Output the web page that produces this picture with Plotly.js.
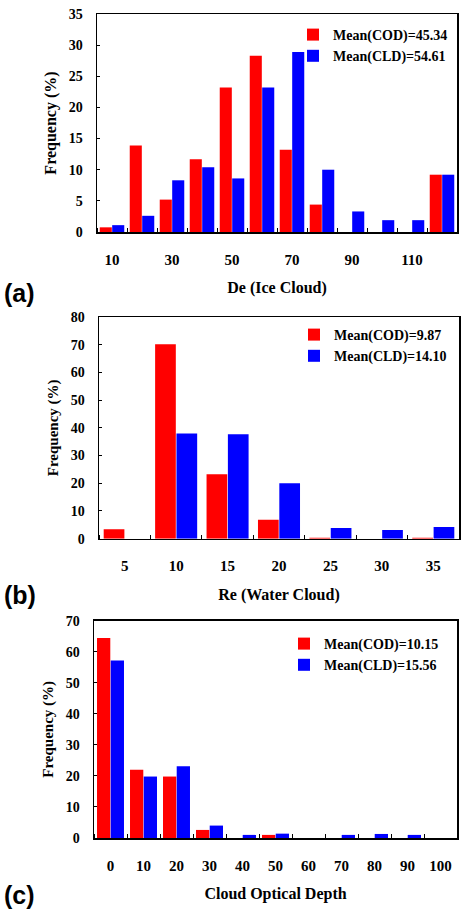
<!DOCTYPE html>
<html>
<head>
<meta charset="utf-8">
<script src="https://cdn.plot.ly/plotly-3.0.1.min.js"></script>
<style>html,body{margin:0;padding:0;background:#fff;}#chart{width:461px;height:915px;}</style>
</head>
<body>
<div id="chart"></div>
<script>
// ---- Data ----
// (a) Ice cloud effective diameter De
const deBins = [10, 20, 30, 40, 50, 60, 70, 80, 90, 100, 110, 120];
const deCOD  = [0.75, 13.9, 5.2, 11.7, 23.2, 28.3, 13.2, 4.4, 0, 0, 0, 9.2];
const deCLD  = [1.1, 2.6, 8.3, 10.4, 8.6, 23.2, 28.9, 10.0, 3.3, 1.9, 1.9, 9.2];
const deTicks = [10, 30, 50, 70, 90, 110];
const deNames = ["Mean(COD)=45.34", "Mean(CLD)=54.61"];

// (b) Water cloud effective radius Re
const reBins = [5, 10, 15, 20, 25, 30, 35];
const reCOD  = [3.4, 70.2, 23.3, 6.8, 0.3, 0, 0.3];
const reCLD  = [0, 38.0, 37.7, 20.0, 3.9, 3.1, 4.2];
const reTicks = [5, 10, 15, 20, 25, 30, 35];
const reNames = ["Mean(COD)=9.87", "Mean(CLD)=14.10"];

// (c) Cloud optical depth
const codBins = [0, 10, 20, 30, 40, 50, 60, 70, 80, 90, 100];
const codCOD  = [64.4, 22.0, 19.8, 2.6, 0, 1.0, 0, 0, 0, 0, 0];
const codCLD  = [57.2, 19.8, 23.1, 4.0, 1.0, 1.4, 0, 1.0, 1.3, 1.0, 0];
const codTicks = [0, 10, 20, 30, 40, 50, 60, 70, 80, 90, 100];
const codNames = ["Mean(COD)=10.15", "Mean(CLD)=15.56"];

// ---- Layout helpers ----
const W = 461, H = 915;
const px = v => v / W;
const py = v => 1 - v / H;
const SERIF = "'Liberation Serif', 'Times New Roman', Times, serif";
const RED = "#ff0000", BLUE = "#0000ff";

function bars(x, y, name, color, xa, ya, lg) {
  return {type: "bar", x: x, y: y, name: name, xaxis: xa, yaxis: ya, legend: lg,
          marker: {color: color, line: {width: 0}}, hoverinfo: "x+y"};
}

const data = [
  bars(deBins, deCOD, deNames[0], RED, "x", "y", "legend"),
  bars(deBins, deCLD, deNames[1], BLUE, "x", "y", "legend"),
  bars(reBins, reCOD, reNames[0], RED, "x2", "y2", "legend2"),
  bars(reBins, reCLD, reNames[1], BLUE, "x2", "y2", "legend2"),
  bars(codBins, codCOD, codNames[0], RED, "x3", "y3", "legend3"),
  bars(codBins, codCLD, codNames[1], BLUE, "x3", "y3", "legend3")
];

function xAxis(bins, ticks, domain, anchor, title) {
  const step = bins[1] - bins[0];
  return {
    domain: domain, anchor: anchor,
    range: [bins[0] - step / 2, bins[bins.length - 1] + step / 2],
    tickmode: "array", tickvals: ticks, ticktext: ticks.map(String),
    ticks: "", ticklabelstandoff: 13,
    minor: {tick0: bins[0] - step / 2, dtick: step, ticks: "inside", ticklen: 4, tickwidth: 1, tickcolor: "#000", showgrid: false},
    showline: true, mirror: true, linecolor: "#000", linewidth: 1.5,
    showgrid: false, zeroline: false, fixedrange: true,
    tickfont: {family: SERIF, size: 15, color: "#000", weight: "bold"},
    title: {text: title, standoff: 15, font: {family: SERIF, size: 16, color: "#000", weight: "bold"}}
  };
}
function yAxis(range, dtick, domain, anchor, tsize) {
  return {
    domain: domain, anchor: anchor, range: range, dtick: dtick, tick0: 0,
    ticks: "inside", ticklen: 3, tickwidth: 1, tickcolor: "#000", ticklabelstandoff: 10,
    showline: true, mirror: true, linecolor: "#000", linewidth: 1.5,
    showgrid: false, zeroline: false, fixedrange: true,
    tickfont: {family: SERIF, size: 14, color: "#000", weight: "bold"},
    title: {text: "Frequency (%)", standoff: 8, font: {family: SERIF, size: tsize, color: "#000", weight: "bold"}}
  };
}
function legendAt(xLeft, yTop) {
  return {x: px(xLeft), y: py(yTop), xanchor: "left", yanchor: "top",
          bgcolor: "rgba(0,0,0,0)", borderwidth: 0, tracegroupgap: 0,
          font: {family: SERIF, size: 14, color: "#000", weight: "bold"}};
}
function panelLabel(text, yCenter) {
  return {text: text, xref: "paper", yref: "paper", x: px(2), y: py(yCenter),
          xanchor: "left", yanchor: "middle", showarrow: false,
          font: {family: "'Liberation Sans', Arial, sans-serif", size: 25, color: "#000", weight: "bold"}};
}

const layout = {
  width: W, height: H,
  margin: {l: 0, r: 0, t: 0, b: 0},
  paper_bgcolor: "#fff", plot_bgcolor: "#fff",
  barmode: "group", bargap: 0.17, bargroupgap: 0.03,
  showlegend: true,
  xaxis:  xAxis(deBins, deTicks, [px(97), px(457)], "y", "De (Ice Cloud)"),
  yaxis:  yAxis([0, 35], 5, [py(232), py(14)], "x", 16),
  xaxis2: xAxis(reBins, reTicks, [px(99), px(459)], "y2", "Re (Water Cloud)"),
  yaxis2: yAxis([0, 80], 10, [py(538.7), py(317)], "x2", 15),
  xaxis3: xAxis(codBins, codTicks, [px(94), px(457)], "y3", "Cloud Optical Depth"),
  yaxis3: yAxis([0, 70], 10, [py(838), py(620.7)], "x3", 15),
  legend:  legendAt(293, 19),
  legend2: legendAt(294, 319),
  legend3: legendAt(284, 628),
  annotations: [panelLabel("(a)", 293), panelLabel("(b)", 595), panelLabel("(c)", 895)]
};

Plotly.newPlot("chart", data, layout, {displayModeBar: false, staticPlot: true});
</script>
</body>
</html>
